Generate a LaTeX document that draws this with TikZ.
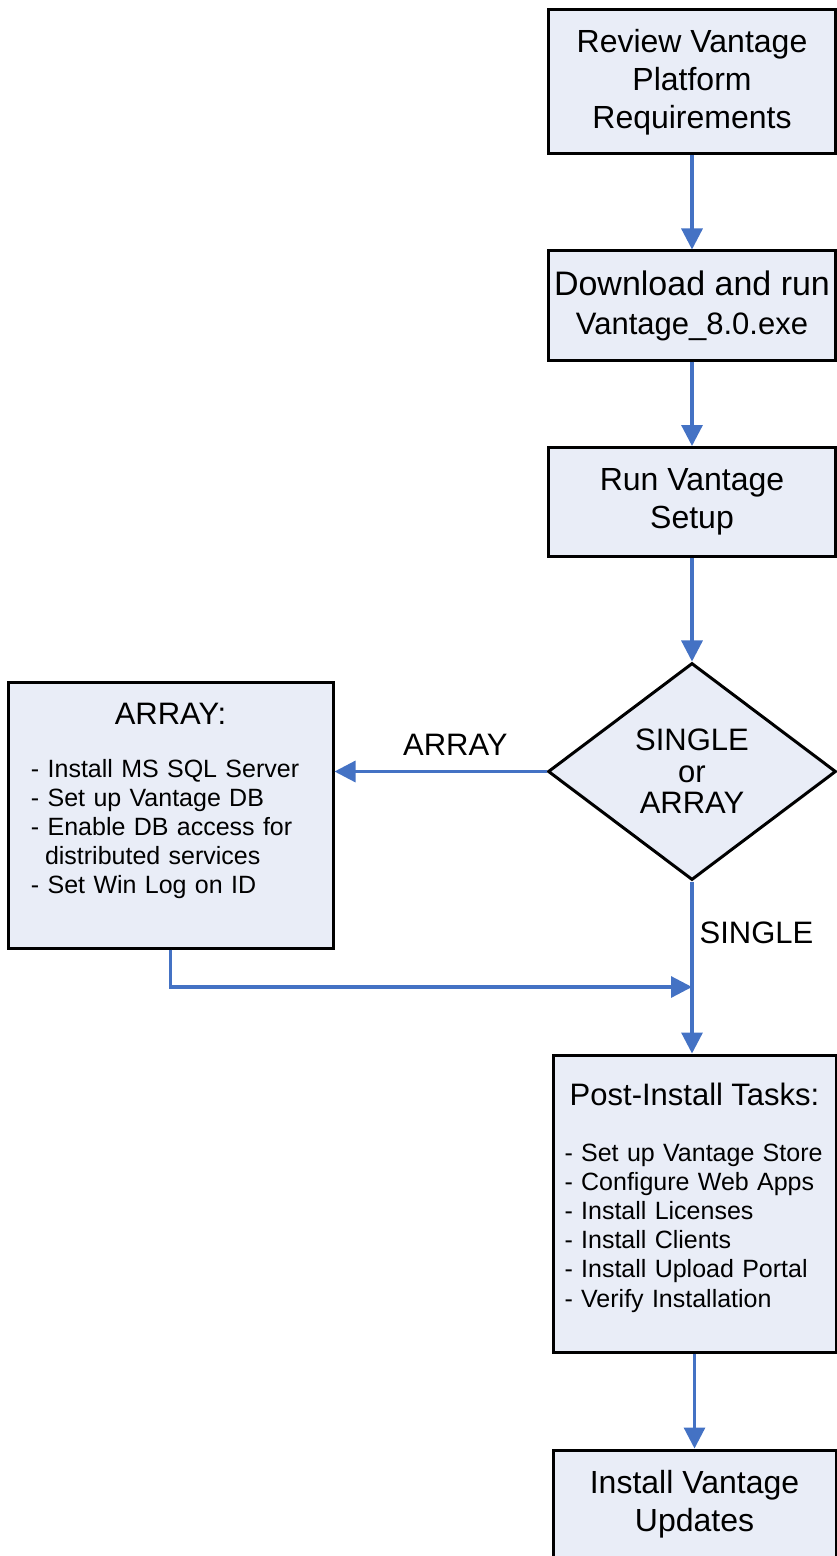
\documentclass[tikz,border=0pt]{standalone}
\usepackage{fontspec}
\setmainfont{Liberation Sans}
\usetikzlibrary{shapes.geometric,arrows.meta}

\definecolor{flowblue}{RGB}{68,114,196}
\definecolor{boxfill}{RGB}{233,237,247}
\newcommand{\bigsize}{\fontsize{16pt}{19pt}\selectfont}
\newcommand{\headsize}{\fontsize{15.5pt}{18pt}\selectfont}
\newcommand{\asksize}{\fontsize{15.5pt}{15.75pt}\selectfont}
\newcommand{\listsize}{\fontsize{12.5pt}{14.6pt}\selectfont}
\newcommand{\padbottom}[1]{\par\vspace*{#1}\nointerlineskip\hbox{}}

\begin{document}
\begin{tikzpicture}[x=0.5pt,y=0.5pt,->,>={Triangle[length=10.5pt,width=10.5pt]},
  task/.style={rectangle,draw=black,line width=1.5pt,fill=boxfill,inner sep=0pt,
    align=center,font=\bigsize,minimum width=143.5pt,minimum height=54.5pt},
  decision/.style={diamond,draw=black,line width=1.5pt,fill=boxfill,inner sep=0pt,
    align=center,font=\asksize,minimum width=144pt,minimum height=108.5pt},
  tag/.style={font=\headsize,text=black,inner sep=2pt},
  every edge/.style={draw=flowblue,line width=1.6pt}]
\useasboundingbox (0,0) rectangle (836,-1556);

% right column
\node[task,minimum height=72pt] (review) at (692,-82) {Review Vantage\\Platform\\Requirements};
\node[task] (download) at (692,-305.5) {{\fontsize{17pt}{19.5pt}\selectfont Download and run}\\[0.5pt]{\headsize Vantage\_8.0.exe}};
\node[task] (setup) at (692,-502) {Run Vantage\\Setup};
\node[decision] (choice) at (692,-771.5) {SINGLE\\or\\ARRAY};
\node[task,font=\listsize,align=left,text width=130pt,minimum width=141.5pt,minimum height=148.5pt] (post) at (694.5,-1203.5)
  {{\centering\headsize Post-Install Tasks:\par}\vspace{13.4pt}
   - Set up Vantage Store\\
   - Configure Web Apps\\
   - Install Licenses\\
   - Install Clients\\
   - Install Upload Portal\\
   - Verify Installation\padbottom{6pt}};
\node[task,minimum width=141.5pt] (updates) at (694.5,-1504.5) {Install Vantage\\Updates};

% array branch
\node[task,font=\listsize,align=left,text width=139.5pt,minimum width=162.5pt,minimum height=133pt] (array) at (170.5,-815)
  {{\centering\headsize ARRAY:\par}\vspace{11.75pt}
   - Install MS SQL Server\\
   - Set up Vantage DB\\
   - Enable DB access for\\
   \hspace*{7pt}distributed services\\
   - Set Win Log on ID\padbottom{14pt}};
\coordinate (merge) at (692,-987);

\path (review) edge (download);
\path (download) edge (setup);
\path (setup) edge (choice);
\path (choice.west) edge node[tag,above=5pt,pos=0.43] {ARRAY} (choice.west -| array.east);
\path (choice.south) edge node[tag,right=1pt,pos=0.3] {SINGLE} (choice.south |- post.north);
\path (array.south) edge[to path={|- (\tikztotarget)}] (merge);
\path (post) edge (updates);
\end{tikzpicture}
\end{document}
